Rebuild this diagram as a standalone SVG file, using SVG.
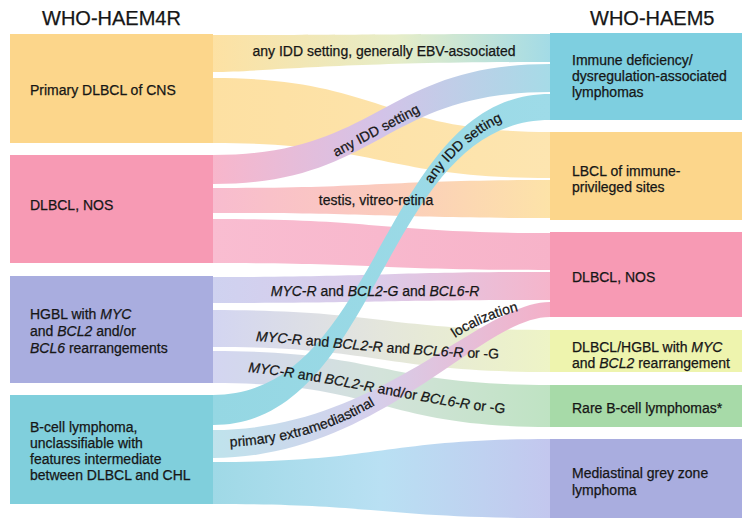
<svg xmlns="http://www.w3.org/2000/svg" width="742" height="521" viewBox="0 0 742 521">
  <style>
    text { font-family: "Liberation Sans", Arial, Helvetica, sans-serif; fill: #161616; stroke: #161616; stroke-width: 0.25px; }
    .ttl { font-size: 20px; }
    .lbl { font-size: 14px; }
    .it { font-style: italic; }
    .band { stroke: none; }
    .mid { text-anchor: middle; }
  </style>
  <defs>
    <linearGradient id="g-cns-idd" gradientUnits="userSpaceOnUse" x1="213" y1="0" x2="550" y2="0">
      <stop offset="0" stop-color="#fde1a3"/>
      <stop offset="0.55" stop-color="#e6edc8"/>
      <stop offset="1" stop-color="#a3dbe6"/>
    </linearGradient>
    <linearGradient id="g-cns-lbcl" gradientUnits="userSpaceOnUse" x1="213" y1="0" x2="550" y2="0">
      <stop offset="0" stop-color="#fde0a2"/>
      <stop offset="1" stop-color="#fde5b0"/>
    </linearGradient>
    <linearGradient id="g-nos-idd" gradientUnits="userSpaceOnUse" x1="213" y1="0" x2="550" y2="0">
      <stop offset="0" stop-color="#f8b6cb"/>
      <stop offset="0.5" stop-color="#d3c3e8"/>
      <stop offset="1" stop-color="#a6dbe7"/>
    </linearGradient>
    <linearGradient id="g-nos-lbcl" gradientUnits="userSpaceOnUse" x1="213" y1="0" x2="550" y2="0">
      <stop offset="0" stop-color="#f8bccf"/>
      <stop offset="0.5" stop-color="#fbcbbd"/>
      <stop offset="1" stop-color="#fde3a8"/>
    </linearGradient>
    <linearGradient id="g-nos-nos" gradientUnits="userSpaceOnUse" x1="213" y1="0" x2="550" y2="0">
      <stop offset="0" stop-color="#f9bdd1"/>
      <stop offset="1" stop-color="#f7b3c9"/>
    </linearGradient>
    <linearGradient id="g-hgbl-nos" gradientUnits="userSpaceOnUse" x1="213" y1="0" x2="550" y2="0">
      <stop offset="0" stop-color="#cfd2f0"/>
      <stop offset="0.5" stop-color="#dccbe9"/>
      <stop offset="1" stop-color="#f5b5cb"/>
    </linearGradient>
    <linearGradient id="g-hgbl-dh" gradientUnits="userSpaceOnUse" x1="213" y1="0" x2="550" y2="0">
      <stop offset="0" stop-color="#d3d5f1"/>
      <stop offset="0.5" stop-color="#e4e6dc"/>
      <stop offset="1" stop-color="#eef4c6"/>
    </linearGradient>
    <linearGradient id="g-hgbl-rare" gradientUnits="userSpaceOnUse" x1="213" y1="0" x2="550" y2="0">
      <stop offset="0" stop-color="#d3d5f1"/>
      <stop offset="0.5" stop-color="#d3e3da"/>
      <stop offset="1" stop-color="#bfe3c3"/>
    </linearGradient>
    <linearGradient id="g-bcl-idd" gradientUnits="userSpaceOnUse" x1="213" y1="0" x2="550" y2="0">
      <stop offset="0" stop-color="#95d7e3"/>
      <stop offset="1" stop-color="#9edbe8"/>
    </linearGradient>
    <linearGradient id="g-bcl-nos" gradientUnits="userSpaceOnUse" x1="213" y1="0" x2="550" y2="0">
      <stop offset="0" stop-color="#bfe3ec"/>
      <stop offset="0.45" stop-color="#d4d0ec"/>
      <stop offset="1" stop-color="#f4b0c8"/>
    </linearGradient>
    <linearGradient id="g-bcl-mgz" gradientUnits="userSpaceOnUse" x1="213" y1="0" x2="550" y2="0">
      <stop offset="0" stop-color="#9fd9e6"/>
      <stop offset="0.5" stop-color="#b9e0f3"/>
      <stop offset="1" stop-color="#c3c7ee"/>
    </linearGradient>
    <!-- baselines for labels that follow curved bands -->
    <path id="p-nos-idd" d="M336,157 L421,112"/>
    <path id="p-bcl-idd" d="M432,184 C442,166 476,130 508,119"/>
    <path id="p-dh" d="M256,341 C320,345 400,356 508,359"/>
    <path id="p-rare" d="M248,372 C330,380 420,405 510,414"/>
    <path id="p-extra" d="M226,447 C290,444 340,428 390,396"/>
    <path id="p-local" d="M455,338 Q486,318 530,308"/>
  </defs>

  <rect width="742" height="521" fill="#ffffff"/>

  <!-- column headers -->
  <g id="headers">
    <text class="ttl" x="42" y="25">WHO-HAEM4R</text>
    <text class="ttl" x="590" y="25">WHO-HAEM5</text>
  </g>

  <!-- flow bands between the two classifications -->
  <g id="connectors">
    <path class="band" fill="url(#g-cns-idd)" d="M213,35 C381,35 382,34 550,34 L550,62 C330,62 265,72 213,72 Z"/>
    <path class="band" fill="url(#g-cns-lbcl)" d="M213,78 C381,78 382,132 550,132 L550,178 C382,178 381,143 213,143 Z"/>
    <path class="band" fill="url(#g-nos-lbcl)" d="M213,188 C381,188 382,180 550,180 L550,218 C382,218 381,213 213,213 Z"/>
    <path class="band" fill="url(#g-nos-nos)" d="M213,219 C381,219 382,233 550,233 L550,270 C382,270 381,263 213,263 Z"/>
    <path class="band" fill="url(#g-hgbl-nos)" d="M213,277 C381,277 382,272 550,272 L550,300 C382,300 381,303 213,303 Z"/>
    <path class="band" fill="url(#g-hgbl-dh)" d="M213,310 C381,310 382,330 550,330 L550,372 C382,372 381,347 213,347 Z"/>
    <path class="band" fill="url(#g-hgbl-rare)" d="M213,351 C381,351 382,385 550,385 L550,427 C382,427 381,383 213,383 Z"/>
    <path class="band" fill="url(#g-bcl-mgz)" d="M213,462 C381,462 382,439 550,439 L550,518 C382,518 381,504 213,504 Z"/>
    <path class="band" fill="url(#g-nos-idd)" d="M213,155 C381,155 382,64 550,64 L550,92 C382,92 381,184 213,184 Z"/>
    <path class="band" fill="url(#g-bcl-nos)" d="M213,430 C380,430 480,302 550,302 L550,317 C480,317 380,458 213,458 Z"/>
    <path class="band" fill="url(#g-bcl-idd)" d="M213,395 C381,395 382,94 550,94 L550,120 C382,120 381,425 213,425 Z"/>

    <text class="lbl mid" x="384" y="56">any IDD setting, generally EBV-associated</text>
    <text class="lbl"><textPath href="#p-nos-idd">any IDD setting</textPath></text>
    <text class="lbl"><textPath href="#p-bcl-idd">any IDD setting</textPath></text>
    <text class="lbl mid" x="376" y="205">testis, vitreo-retina</text>
    <text class="lbl mid" x="375" y="296"><tspan class="it">MYC-R</tspan> and <tspan class="it">BCL2-G</tspan> and <tspan class="it">BCL6-R</tspan></text>
    <text class="lbl"><textPath href="#p-dh"><tspan class="it">MYC-R</tspan> and <tspan class="it">BCL2-R</tspan> and <tspan class="it">BCL6-R</tspan> or -G</textPath></text>
    <text class="lbl"><textPath href="#p-rare"><tspan class="it">MYC-R</tspan> and <tspan class="it">BCL2-R</tspan> and/or <tspan class="it">BCL6-R</tspan> or -G</textPath></text>
    <text class="lbl"><textPath href="#p-extra" startOffset="4">primary extramediastinal</textPath></text>
    <text class="lbl"><textPath href="#p-local">localization</textPath></text>
  </g>

  <!-- WHO-HAEM4R entities -->
  <g id="n-cns">
    <rect x="10" y="34" width="203" height="109" fill="#fcd68b"/>
    <text class="lbl" x="30" y="95">Primary DLBCL of CNS</text>
  </g>
  <g id="n-nos-left">
    <rect x="10" y="155" width="203" height="108" fill="#f79ab4"/>
    <text class="lbl" x="30" y="210">DLBCL, NOS</text>
  </g>
  <g id="n-hgbl">
    <rect x="10" y="276" width="203" height="107" fill="#a9addf"/>
    <text class="lbl" x="30" y="319">HGBL with <tspan class="it">MYC</tspan></text>
    <text class="lbl" x="30" y="336">and <tspan class="it">BCL2</tspan> and/or</text>
    <text class="lbl" x="30" y="353"><tspan class="it">BCL6</tspan> rearrangements</text>
  </g>
  <g id="n-bcl-u">
    <rect x="10" y="395" width="203" height="109" fill="#80cfdc"/>
    <text class="lbl" x="30" y="432">B-cell lymphoma,</text>
    <text class="lbl" x="30" y="448">unclassifiable with</text>
    <text class="lbl" x="30" y="464">features intermediate</text>
    <text class="lbl" x="30" y="480">between DLBCL and CHL</text>
  </g>

  <!-- WHO-HAEM5 entities -->
  <g id="n-idd">
    <rect x="550" y="33" width="192" height="87" fill="#7ecfe0"/>
    <text class="lbl" x="572" y="65">Immune deficiency/</text>
    <text class="lbl" x="572" y="81">dysregulation-associated</text>
    <text class="lbl" x="572" y="97">lymphomas</text>
  </g>
  <g id="n-lbcl-ip">
    <rect x="550" y="132" width="192" height="88" fill="#fcd68b"/>
    <text class="lbl" x="572" y="176">LBCL of immune-</text>
    <text class="lbl" x="572" y="192">privileged sites</text>
  </g>
  <g id="n-nos-right">
    <rect x="550" y="232" width="192" height="85" fill="#f79ab4"/>
    <text class="lbl" x="572" y="282">DLBCL, NOS</text>
  </g>
  <g id="n-dh">
    <rect x="550" y="330" width="192" height="42" fill="#eef4ae"/>
    <text class="lbl" x="572" y="352">DLBCL/HGBL with <tspan class="it">MYC</tspan></text>
    <text class="lbl" x="572" y="368">and <tspan class="it">BCL2</tspan> rearrangement</text>
  </g>
  <g id="n-rare">
    <rect x="550" y="385" width="192" height="42" fill="#a7daa8"/>
    <text class="lbl" x="572" y="413">Rare B-cell lymphomas*</text>
  </g>
  <g id="n-mgz">
    <rect x="550" y="439" width="192" height="79" fill="#a9addf"/>
    <text class="lbl" x="572" y="478">Mediastinal grey zone</text>
    <text class="lbl" x="572" y="495">lymphoma</text>
  </g>
</svg>
